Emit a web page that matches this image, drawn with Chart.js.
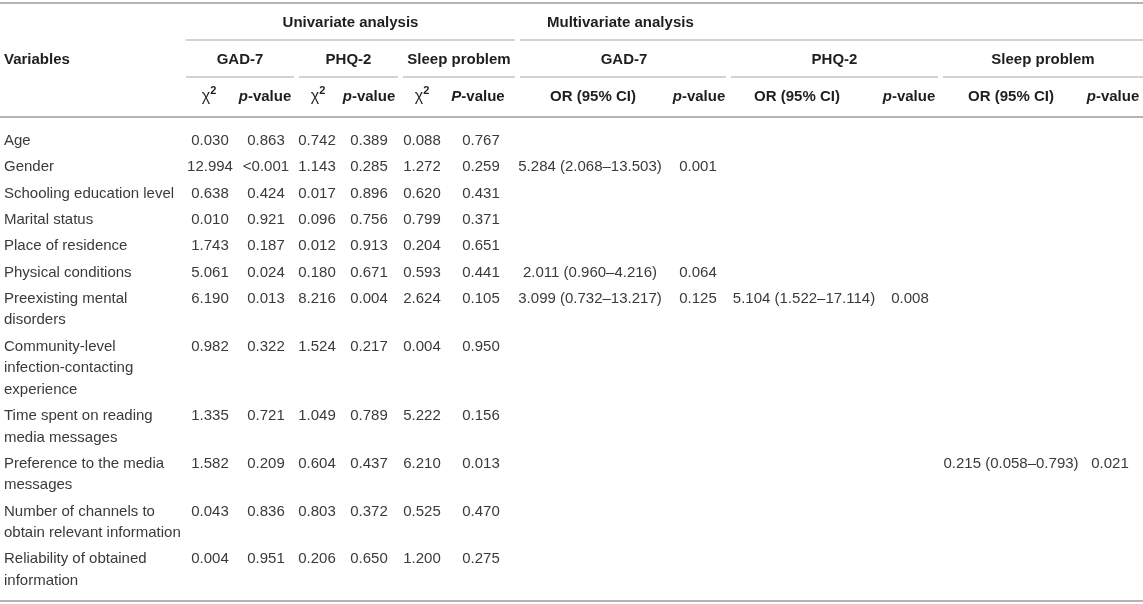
<!DOCTYPE html>
<html><head><meta charset="utf-8">
<script src="https://cdn.jsdelivr.net/npm/chart.js@4.4.1/dist/chart.umd.min.js"></script>
<style>html,body{margin:0;padding:0;background:#fff;}#wrap{width:1143px;height:604px;position:relative;}</style>
</head><body><div id="wrap"><canvas id="c"></canvas></div>
<script>
// ---------- DATA ----------
const variables = [
  ["Age"], ["Gender"], ["Schooling education level"], ["Marital status"],
  ["Place of residence"], ["Physical conditions"], ["Preexisting mental", "disorders"],
  ["Community-level", "infection-contacting", "experience"],
  ["Time spent on reading", "media messages"], ["Preference to the media", "messages"],
  ["Number of channels to", "obtain relevant information"], ["Reliability of obtained", "information"]
];
const gad7Chi2  = ["0.030","12.994","0.638","0.010","1.743","5.061","6.190","0.982","1.335","1.582","0.043","0.004"];
const gad7P     = ["0.863","<0.001","0.424","0.921","0.187","0.024","0.013","0.322","0.721","0.209","0.836","0.951"];
const phq2Chi2  = ["0.742","1.143","0.017","0.096","0.012","0.180","8.216","1.524","1.049","0.604","0.803","0.206"];
const phq2P     = ["0.389","0.285","0.896","0.756","0.913","0.671","0.004","0.217","0.789","0.437","0.372","0.650"];
const sleepChi2 = ["0.088","1.272","0.620","0.799","0.204","0.593","2.624","0.004","5.222","6.210","0.525","1.200"];
const sleepP    = ["0.767","0.259","0.431","0.371","0.651","0.441","0.105","0.950","0.156","0.013","0.470","0.275"];
const gad7OR    = [null,"5.284 (2.068–13.503)",null,null,null,"2.011 (0.960–4.216)","3.099 (0.732–13.217)",null,null,null,null,null];
const gad7MP    = [null,"0.001",null,null,null,"0.064","0.125",null,null,null,null,null];
const phq2OR    = [null,null,null,null,null,null,"5.104 (1.522–17.114)",null,null,null,null,null];
const phq2MP    = [null,null,null,null,null,null,"0.008",null,null,null,null,null];
const sleepOR   = [null,null,null,null,null,null,null,null,null,"0.215 (0.058–0.793)",null,null];
const sleepMP   = [null,null,null,null,null,null,null,null,null,"0.021",null,null];

const groupHeaders = ["Univariate analysis", "Multivariate analysis"];
const outcomeHeaders = ["GAD-7", "PHQ-2", "Sleep problem", "GAD-7", "PHQ-2", "Sleep problem"];

// ---------- LAYOUT (scale units) ----------
const W = 1143, H = 604;
const FIRST_ROW = 141, ROW_PITCH = 26.3, LINE_GAP = 21.5;
const rowY = [];
(function(){ let y = FIRST_ROW; variables.forEach(v => { rowY.push(y); y += ROW_PITCH + (v.length - 1) * LINE_GAP; }); })();
const colX = { label: 4, gChi: 210, gP: 266, pChi: 317, pP: 369, sChi: 422, sP: 481,
               mgOR: 590, mgP: 698, mpOR: 804, mpP: 910, msOR: 1011, msP: 1110 };
const HEAD_Y = [23, 60, 97];
const groupSpans = [[186, 515], [520, 1143]];
const outcomeSpans = [[186, 294], [299, 398], [403, 515], [520, 726], [731, 938], [943, 1143]];
const subHeadX = [
  ["chi", 209], ["p", 265], ["chi", 318], ["p", 369], ["chi", 422], ["P", 478],
  ["or", 593], ["p", 699], ["or", 797], ["p", 909], ["or", 1011], ["p", 1113]
];
const FULL_RULES = [3, 117, 601];
const GROUP_RULE_Y = 40, OUTCOME_RULE_Y = 77;

const FONT = "'Liberation Sans', Arial, Helvetica, sans-serif";
const TEXT_COLOR = "#3a3a3a", HEAD_COLOR = "#1e1e1e", RULE_COLOR = "#b4b4b4", SUBRULE_COLOR = "#c4c4c4";

function columnData(values, x) {
  const pts = [];
  values.forEach((v, i) => { if (v !== null) pts.push({ x: x, y: rowY[i], label: Array.isArray(v) ? v : [v] }); });
  return pts;
}
const columns = [
  [variables, colX.label, 'left'],
  [gad7Chi2, colX.gChi, 'center'], [gad7P, colX.gP, 'center'],
  [phq2Chi2, colX.pChi, 'center'], [phq2P, colX.pP, 'center'],
  [sleepChi2, colX.sChi, 'center'], [sleepP, colX.sP, 'center'],
  [gad7OR, colX.mgOR, 'center'], [gad7MP, colX.mgP, 'center'],
  [phq2OR, colX.mpOR, 'center'], [phq2MP, colX.mpP, 'center'],
  [sleepOR, colX.msOR, 'center'], [sleepMP, colX.msP, 'center']
];
const datasets = columns.map(c => ({ data: columnData(c[0], c[1]), align: c[2], pointRadius: 0, showLine: false }));

function drawSegments(ctx, segs, x, y, align) {
  let total = 0;
  segs.forEach(s => { ctx.font = s.font; s.w = ctx.measureText(s.t).width; total += s.w; });
  let cx = align === 'center' ? x - total / 2 : x;
  ctx.textAlign = 'left';
  segs.forEach(s => { ctx.font = s.font; ctx.fillText(s.t, cx, y + (s.dy || 0)); cx += s.w; });
}

const tablePlugin = {
  id: 'table',
  afterDatasetsDraw(chart) {
    const ctx = chart.ctx, xs = chart.scales.x, ys = chart.scales.y;
    const px = v => xs.getPixelForValue(v), py = v => ys.getPixelForValue(v);
    ctx.save();
    // rules
    ctx.strokeStyle = RULE_COLOR; ctx.lineWidth = 2;
    FULL_RULES.forEach(y => { ctx.beginPath(); ctx.moveTo(px(0), py(y)); ctx.lineTo(px(W), py(y)); ctx.stroke(); });
    ctx.strokeStyle = SUBRULE_COLOR; ctx.lineWidth = 1.5;
    groupSpans.forEach(s => { ctx.beginPath(); ctx.moveTo(px(s[0]), py(GROUP_RULE_Y)); ctx.lineTo(px(s[1]), py(GROUP_RULE_Y)); ctx.stroke(); });
    outcomeSpans.forEach(s => { ctx.beginPath(); ctx.moveTo(px(s[0]), py(OUTCOME_RULE_Y)); ctx.lineTo(px(s[1]), py(OUTCOME_RULE_Y)); ctx.stroke(); });

    // headers
    ctx.fillStyle = HEAD_COLOR; ctx.textBaseline = 'middle';
    const bold = "bold 15px " + FONT, boldIt = "italic bold 15px " + FONT;
    ctx.font = bold; ctx.textAlign = 'center';
    ctx.fillText(groupHeaders[0], px((groupSpans[0][0] + groupSpans[0][1]) / 2), py(HEAD_Y[0]));
    ctx.textAlign = 'left';
    ctx.fillText(groupHeaders[1], px(547), py(HEAD_Y[0]));
    ctx.fillText("Variables", px(colX.label), py(HEAD_Y[1]));
    ctx.textAlign = 'center';
    outcomeHeaders.forEach((h, i) => ctx.fillText(h, px((outcomeSpans[i][0] + outcomeSpans[i][1]) / 2 + (i === 3 ? 1 : 0)), py(HEAD_Y[1])));
    subHeadX.forEach(([kind, x]) => {
      let segs;
      if (kind === 'chi') segs = [{ t: "χ", font: "16px " + FONT }, { t: "2", font: "bold 11px " + FONT, dy: -6 }];
      else if (kind === 'p') segs = [{ t: "p", font: boldIt }, { t: "-value", font: bold }];
      else if (kind === 'P') segs = [{ t: "P", font: boldIt }, { t: "-value", font: bold }];
      else segs = [{ t: "OR (95% CI)", font: bold }];
      drawSegments(ctx, segs, px(x), py(HEAD_Y[2]), 'center');
    });

    // cells
    ctx.fillStyle = TEXT_COLOR; ctx.font = "15px " + FONT;
    chart.data.datasets.forEach((ds, di) => {
      const meta = chart.getDatasetMeta(di);
      ctx.textAlign = ds.align;
      meta.data.forEach((el, j) => {
        const raw = ds.data[j];
        raw.label.forEach((line, k) => {
          const y = k === 0 ? el.y : py(raw.y + k * LINE_GAP);
          ctx.fillText(line, el.x, y);
        });
      });
    });
    ctx.restore();
  }
};

new Chart(document.getElementById('c'), {
  type: 'scatter',
  data: { datasets },
  options: {
    responsive: true, maintainAspectRatio: false, animation: false,
    layout: { padding: 0 },
    plugins: { legend: { display: false }, tooltip: { enabled: false } },
    scales: {
      x: { type: 'linear', min: 0, max: W, display: false },
      y: { type: 'linear', min: 0, max: H, reverse: true, display: false }
    }
  },
  plugins: [tablePlugin]
});
</script></body></html>
